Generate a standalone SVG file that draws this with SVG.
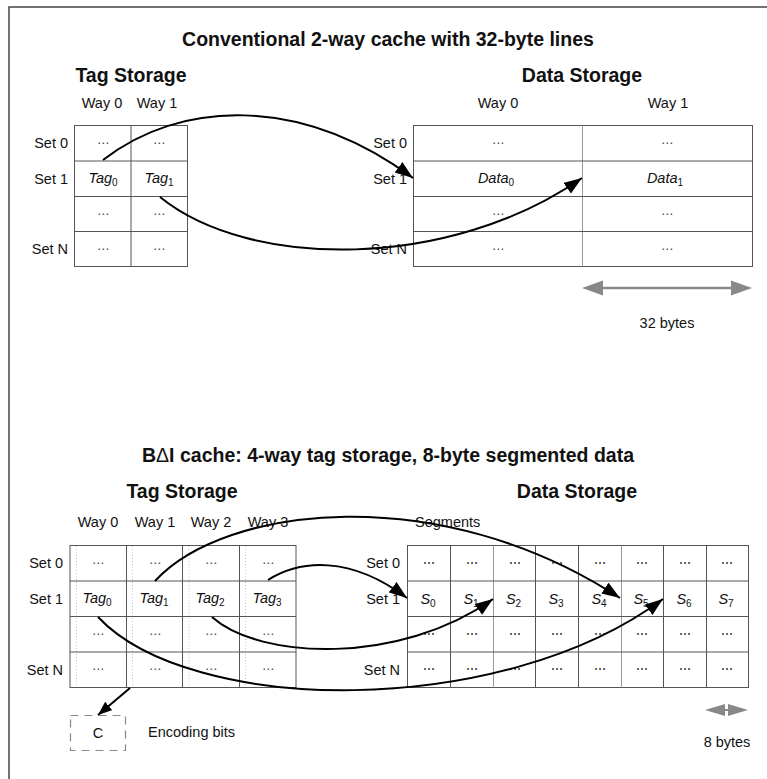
<svg xmlns="http://www.w3.org/2000/svg" width="767" height="779" viewBox="0 0 767 779">
<style>
text{font-family:"Liberation Sans",Arial,sans-serif;fill:#111}
.title{font-size:19.5px;font-weight:bold;text-anchor:middle}
.lbl{font-size:14.5px}
.mid{text-anchor:middle}
.end{text-anchor:end}
.it{font-style:italic;font-size:14.5px;text-anchor:middle}
.sub{font-style:normal;font-size:10px}
.dots{font-family:"DejaVu Sans","Liberation Sans",sans-serif;font-size:12px;fill:#444;text-anchor:middle}
.grid{fill:#fff;stroke:#555;stroke-width:1}
.gl{stroke:#555;stroke-width:1}
.glight{stroke:#999;stroke-width:1}
.dotl{stroke:#c8c8c8;stroke-width:1;stroke-dasharray:1,2}
.conn{fill:none;stroke:#000;stroke-width:2}
</style>
<defs>
<marker id="ah" markerUnits="userSpaceOnUse" markerWidth="20" markerHeight="14" refX="18" refY="6.5" orient="auto">
<path d="M0,0 L18,6.5 L0,13 z" fill="#000"/>
</marker>
<marker id="ahs" markerUnits="userSpaceOnUse" markerWidth="16" markerHeight="12" refX="14" refY="5.5" orient="auto">
<path d="M0,0 L14,5.5 L0,11 z" fill="#000"/>
</marker>
</defs>
<rect x="0" y="0" width="767" height="779" fill="#fff"/>
<path d="M9,779 V7 H767" fill="none" stroke="#444" stroke-width="1.5"/>

<!-- Top section -->
<g id="top-titles">
<text class="title" x="388" y="46">Conventional 2-way cache with 32-byte lines</text>
<text class="title" x="131" y="82">Tag Storage</text>
<text class="title" x="582" y="82">Data Storage</text>
</g>

<g id="top-tag-storage">
<text class="lbl mid" x="102" y="108">Way 0</text>
<text class="lbl mid" x="157" y="108">Way 1</text>
<text class="lbl end" x="68" y="148">Set 0</text>
<text class="lbl end" x="68" y="183.5">Set 1</text>
<text class="lbl end" x="68" y="254">Set N</text>
<rect class="grid" x="74.5" y="125.5" width="113" height="141"/>
<line class="gl" x1="131" y1="125.5" x2="131" y2="266.5"/>
<line class="gl" x1="74.5" y1="161" x2="187.5" y2="161"/>
<line class="gl" x1="74.5" y1="196.5" x2="187.5" y2="196.5"/>
<line class="gl" x1="74.5" y1="231.5" x2="187.5" y2="231.5"/>
<text class="dots" x="103" y="147">⋯</text>
<text class="dots" x="159" y="147">⋯</text>
<text class="it" x="103" y="183">Tag<tspan class="sub" dy="3">0</tspan></text>
<text class="it" x="159" y="183">Tag<tspan class="sub" dy="3">1</tspan></text>
<text class="dots" x="103" y="218">⋯</text>
<text class="dots" x="159" y="218">⋯</text>
<text class="dots" x="103" y="253">⋯</text>
<text class="dots" x="159" y="253">⋯</text>
</g>

<g id="top-data-storage">
<text class="lbl mid" x="498" y="108">Way 0</text>
<text class="lbl mid" x="668" y="108">Way 1</text>
<text class="lbl end" x="407" y="148">Set 0</text>
<text class="lbl end" x="407" y="183.5">Set 1</text>
<text class="lbl end" x="407" y="254">Set N</text>
<rect class="grid" x="413.5" y="125.5" width="339" height="141"/>
<line class="glight" x1="582.5" y1="125.5" x2="582.5" y2="266.5"/>
<line class="gl" x1="413.5" y1="161" x2="752.5" y2="161"/>
<line class="gl" x1="413.5" y1="196.5" x2="752.5" y2="196.5"/>
<line class="gl" x1="413.5" y1="231.5" x2="752.5" y2="231.5"/>
<text class="dots" x="498" y="147">⋯</text>
<text class="dots" x="667" y="147">⋯</text>
<text class="it" x="496" y="183">Data<tspan class="sub" dy="3">0</tspan></text>
<text class="it" x="665" y="183">Data<tspan class="sub" dy="3">1</tspan></text>
<text class="dots" x="498" y="218">⋯</text>
<text class="dots" x="667" y="218">⋯</text>
<text class="dots" x="498" y="253">⋯</text>
<text class="dots" x="667" y="253">⋯</text>
</g>

<g id="top-size">
<line x1="598" y1="288" x2="736" y2="288" stroke="#888" stroke-width="2.5"/>
<polygon points="582,288 603,280.5 603,295.5" fill="#888"/>
<polygon points="752,288 731,280.5 731,295.5" fill="#888"/>
<text class="lbl mid" x="667" y="328">32 bytes</text>
</g>

<!-- Bottom section -->
<g id="bottom-titles">
<text class="title" x="388" y="462">B<tspan font-weight="normal">Δ</tspan>I cache: 4-way tag storage, 8-byte segmented data</text>
<text class="title" x="182" y="498">Tag Storage</text>
<text class="title" x="577" y="498">Data Storage</text>
</g>

<g id="bottom-tag-storage">
<text class="lbl mid" x="98" y="527">Way 0</text>
<text class="lbl mid" x="155" y="527">Way 1</text>
<text class="lbl mid" x="211" y="527">Way 2</text>
<text class="lbl mid" x="268" y="527">Way 3</text>
<text class="lbl end" x="63" y="568">Set 0</text>
<text class="lbl end" x="63" y="604">Set 1</text>
<text class="lbl end" x="63" y="675">Set N</text>
<rect class="grid" x="70" y="545.5" width="226" height="142"/>
<line class="dotl" x1="76.5" y1="546" x2="76.5" y2="687"/>
<line class="dotl" x1="132.5" y1="546" x2="132.5" y2="687"/>
<line class="dotl" x1="189" y1="546" x2="189" y2="687"/>
<line class="dotl" x1="245.5" y1="546" x2="245.5" y2="687"/>
<line class="gl" x1="126.5" y1="545.5" x2="126.5" y2="687.5"/>
<line class="gl" x1="182.5" y1="545.5" x2="182.5" y2="687.5"/>
<line class="gl" x1="239.5" y1="545.5" x2="239.5" y2="687.5"/>
<line class="gl" x1="70" y1="581" x2="296" y2="581"/>
<line class="gl" x1="70" y1="616.5" x2="296" y2="616.5"/>
<line class="gl" x1="70" y1="652" x2="296" y2="652"/>
<text class="dots" x="98" y="567">⋯</text>
<text class="dots" x="155" y="567">⋯</text>
<text class="dots" x="211" y="567">⋯</text>
<text class="dots" x="268" y="567">⋯</text>
<text class="it" x="97" y="603">Tag<tspan class="sub" dy="3">0</tspan></text>
<text class="it" x="154" y="603">Tag<tspan class="sub" dy="3">1</tspan></text>
<text class="it" x="210" y="603">Tag<tspan class="sub" dy="3">2</tspan></text>
<text class="it" x="267" y="603">Tag<tspan class="sub" dy="3">3</tspan></text>
<text class="dots" x="98" y="638">⋯</text>
<text class="dots" x="155" y="638">⋯</text>
<text class="dots" x="211" y="638">⋯</text>
<text class="dots" x="268" y="638">⋯</text>
<text class="dots" x="98" y="673">⋯</text>
<text class="dots" x="155" y="673">⋯</text>
<text class="dots" x="211" y="673">⋯</text>
<text class="dots" x="268" y="673">⋯</text>
</g>

<g id="bottom-data-storage">
<text class="lbl" x="415" y="527">Segments</text>
<text class="lbl end" x="400" y="568">Set 0</text>
<text class="lbl end" x="400" y="604">Set 1</text>
<text class="lbl end" x="400" y="675">Set N</text>
<rect class="grid" x="407.5" y="545.5" width="341" height="142"/>
<line class="gl" x1="450.5" y1="545.5" x2="450.5" y2="687.5"/>
<line class="glight" x1="493.5" y1="545.5" x2="493.5" y2="687.5"/>
<line class="gl" x1="535.5" y1="545.5" x2="535.5" y2="687.5"/>
<line class="gl" x1="578.5" y1="545.5" x2="578.5" y2="687.5"/>
<line class="glight" x1="621.5" y1="545.5" x2="621.5" y2="687.5"/>
<line class="gl" x1="663.5" y1="545.5" x2="663.5" y2="687.5"/>
<line class="gl" x1="706.5" y1="545.5" x2="706.5" y2="687.5"/>
<line class="gl" x1="407.5" y1="581" x2="748.5" y2="581"/>
<line class="gl" x1="407.5" y1="616.5" x2="748.5" y2="616.5"/>
<line class="gl" x1="407.5" y1="652" x2="748.5" y2="652"/>
<g class="dots">
<text x="429" y="567">⋯</text><text x="472" y="567">⋯</text><text x="514.5" y="567">⋯</text><text x="557" y="567">⋯</text><text x="600" y="567">⋯</text><text x="642" y="567">⋯</text><text x="685" y="567">⋯</text><text x="727" y="567">⋯</text>
<text x="429" y="638">⋯</text><text x="472" y="638">⋯</text><text x="514.5" y="638">⋯</text><text x="557" y="638">⋯</text><text x="600" y="638">⋯</text><text x="642" y="638">⋯</text><text x="685" y="638">⋯</text><text x="727" y="638">⋯</text>
<text x="429" y="673">⋯</text><text x="472" y="673">⋯</text><text x="514.5" y="673">⋯</text><text x="557" y="673">⋯</text><text x="600" y="673">⋯</text><text x="642" y="673">⋯</text><text x="685" y="673">⋯</text><text x="727" y="673">⋯</text>
</g>
<text class="it" x="428" y="604">S<tspan class="sub" dy="3">0</tspan></text>
<text class="it" x="471" y="604">S<tspan class="sub" dy="3">1</tspan></text>
<text class="it" x="513.5" y="604">S<tspan class="sub" dy="3">2</tspan></text>
<text class="it" x="556" y="604">S<tspan class="sub" dy="3">3</tspan></text>
<text class="it" x="599" y="604">S<tspan class="sub" dy="3">4</tspan></text>
<text class="it" x="641" y="604">S<tspan class="sub" dy="3">5</tspan></text>
<text class="it" x="684" y="604">S<tspan class="sub" dy="3">6</tspan></text>
<text class="it" x="726" y="604">S<tspan class="sub" dy="3">7</tspan></text>
</g>

<g id="encoding-bits">
<rect x="70.5" y="715.5" width="55" height="35" fill="none" stroke="#888" stroke-width="1.2" stroke-dasharray="8,6"/>
<text class="lbl mid" x="98" y="738">C</text>
<text class="lbl" x="148" y="737">Encoding bits</text>
</g>

<g id="bottom-size">
<line x1="720" y1="710" x2="733" y2="710" stroke="#888" stroke-width="2"/>
<polygon points="705,710 725,704 725,716" fill="#888"/>
<polygon points="748,710 728,704 728,716" fill="#888"/>
<text class="lbl mid" x="727" y="747">8 bytes</text>
</g>

<g id="connectors">
<path class="conn" d="M103,160 C180,100 300,95 413,178" marker-end="url(#ah)"/>
<path class="conn" d="M160,197 C250,270 450,270 582,178" marker-end="url(#ah)"/>
<path class="conn" d="M155,581 C225,505 440,480 620,598" marker-end="url(#ah)"/>
<path class="conn" d="M268,580 C300,560 350,555 407,598" marker-end="url(#ah)"/>
<path class="conn" d="M212,617 C260,660 400,665 493,599" marker-end="url(#ah)"/>
<path class="conn" d="M98,617 C190,715 500,720 663,599" marker-end="url(#ah)"/>
<path class="conn" d="M130,688 L98,715" marker-end="url(#ahs)"/>
</g>
</svg>
